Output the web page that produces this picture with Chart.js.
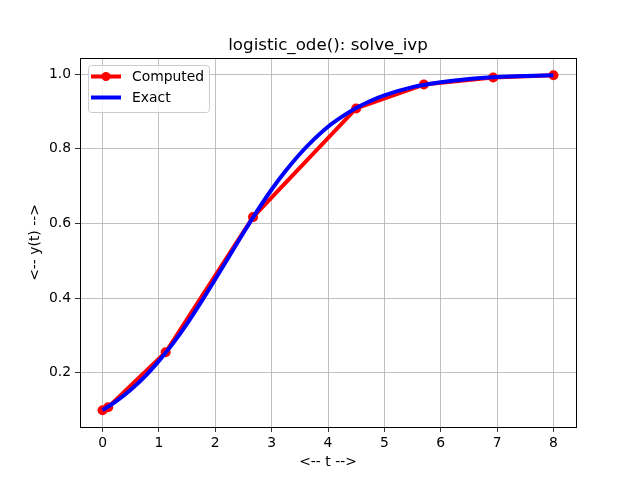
<!DOCTYPE html>
<html>
<head>
<meta charset="utf-8">
<script src="https://cdn.jsdelivr.net/npm/chart.js@4"></script>
<style>
  html, body { margin: 0; padding: 0; background: #fff; }
  #wrap { width: 640px; height: 480px; }
</style>
</head>
<body>
<div id="wrap"><canvas id="chart" width="640" height="480"></canvas></div>
<script>
// Computed (solve_ivp) points
const computedT = [0, 0.1, 1.12, 2.67, 4.5, 5.7, 6.93, 8.0];
const computedY = [0.100, 0.108, 0.255, 0.617, 0.908, 0.972, 0.991, 0.997];

// Exact curve
const exactT = [0, 0.25, 0.5, 0.75, 1.0, 1.25, 1.5, 1.75, 2.0, 2.25, 2.5, 2.75, 3.0, 3.25, 3.5, 3.75,
                4.0, 4.25, 4.5, 4.75, 5.0, 5.5, 6.0, 6.5, 7.0, 7.5, 8.0];
const exactY = [0.100, 0.125, 0.155, 0.190, 0.232, 0.279, 0.332, 0.390, 0.451, 0.513, 0.575, 0.635,
                0.691, 0.741, 0.786, 0.825, 0.859, 0.886, 0.909, 0.928, 0.943, 0.965, 0.978, 0.987,
                0.992, 0.995, 0.997];

// tick labels
const xTicks = [0, 1, 2, 3, 4, 5, 6, 7, 8];
const yTicks = [0.2, 0.4, 0.6, 0.8, 1.0];

const TITLE = 'logistic_ode(): solve_ivp';
const FONT = 'DejaVu Sans';

function toPoints(xs, ys) {
    return xs.map((x, i) => ({ x: x, y: ys[i] }));
}

// frame around plot area, title over the plot area, legend inside
const framePlugin = {
    id: 'frame',
    afterDraw(chart) {
        const ctx = chart.ctx;
        const a = chart.chartArea;
        ctx.save();
        ctx.strokeStyle = '#000';
        ctx.lineWidth = 1;
        ctx.strokeRect(Math.round(a.left) + 0.5, Math.round(a.top) + 0.5,
                       Math.round(a.right - a.left), Math.round(a.bottom - a.top));

        // title
        ctx.fillStyle = '#000';
        ctx.font = '16.7px ' + FONT;
        ctx.textAlign = 'center';
        ctx.textBaseline = 'alphabetic';
        ctx.fillText(TITLE, (a.left + a.right) / 2, a.top - 8);

        // legend box
        const bx = a.left + 8, by = a.top + 7, bw = 121, bh = 47;
        ctx.fillStyle = 'rgba(255,255,255,0.8)';
        ctx.strokeStyle = '#cccccc';
        ctx.beginPath();
        ctx.roundRect(bx + 0.5, by + 0.5, bw, bh, 3);
        ctx.fill();
        ctx.stroke();

        const items = [
            { label: 'Computed', color: 'red', marker: true },
            { label: 'Exact', color: 'blue', marker: false }
        ];
        items.forEach((it, i) => {
            const y = by + 11.5 + i * 21;
            ctx.strokeStyle = it.color;
            ctx.lineWidth = 4;
            ctx.beginPath();
            ctx.moveTo(bx + 3, y);
            ctx.lineTo(bx + 33, y);
            ctx.stroke();
            if (it.marker) {
                ctx.fillStyle = it.color;
                ctx.beginPath();
                ctx.arc(bx + 18, y, 4.5, 0, Math.PI * 2);
                ctx.fill();
            }
            ctx.fillStyle = '#000';
            ctx.font = '13.9px ' + FONT;
            ctx.textBaseline = 'middle';
            ctx.textAlign = 'left';
            ctx.fillText(it.label, bx + 44, y + 1);
        });
        ctx.restore();
    }
};

const ctx = document.getElementById('chart').getContext('2d');
new Chart(ctx, {
    type: 'scatter',
    data: {
        datasets: [
            {
                label: 'Computed',
                data: toPoints(computedT, computedY),
                showLine: true,
                borderColor: 'red',
                backgroundColor: 'red',
                borderWidth: 4,
                pointRadius: 5,
                pointHoverRadius: 5,
                pointBorderWidth: 0,
                order: 1
            },
            {
                label: 'Exact',
                data: toPoints(exactT, exactY),
                showLine: true,
                borderColor: 'blue',
                backgroundColor: 'blue',
                borderWidth: 4,
                pointRadius: 0,
                tension: 0.4,
                cubicInterpolationMode: 'monotone',
                order: 0
            }
        ]
    },
    options: {
        responsive: false,
        animation: false,
        layout: { padding: { left: 0, right: 64, top: 58, bottom: 0 } },
        plugins: {
            legend: { display: false },
            tooltip: { enabled: false },
            title: { display: false }
        },
        scales: {
            x: {
                type: 'linear',
                min: -0.4,
                max: 8.4,
                afterBuildTicks: function(scale) {
                    scale.ticks = xTicks.map(v => ({ value: v }));
                },
                afterFit: function(scale) { scale.height = 53; },
                ticks: {
                    color: '#000',
                    font: { family: FONT, size: 13.9 },
                    padding: 3,
                    maxRotation: 0,
                    callback: v => String(v)
                },
                grid: { color: '#b0b0b0', lineWidth: 0.8, tickColor: '#000', tickLength: 5 },
                border: { display: false },
                title: {
                    display: true,
                    text: '<-- t -->',
                    color: '#000',
                    font: { family: FONT, size: 13.9 },
                    padding: { top: 0, bottom: 9 }
                }
            },
            y: {
                type: 'linear',
                min: 0.055,
                max: 1.043,
                afterBuildTicks: function(scale) {
                    scale.ticks = yTicks.map(v => ({ value: v }));
                },
                afterFit: function(scale) { scale.width = 80; },
                ticks: {
                    color: '#000',
                    font: { family: FONT, size: 13.9 },
                    padding: 4,
                    callback: v => v.toFixed(1)
                },
                grid: { color: '#b0b0b0', lineWidth: 0.8, tickColor: '#000', tickLength: 5 },
                border: { display: false },
                title: {
                    display: true,
                    text: '<-- y(t) -->',
                    color: '#000',
                    font: { family: FONT, size: 13.9 },
                    padding: { top: 27, bottom: 0 }
                }
            }
        }
    },
    plugins: [framePlugin]
});
</script>
</body>
</html>
